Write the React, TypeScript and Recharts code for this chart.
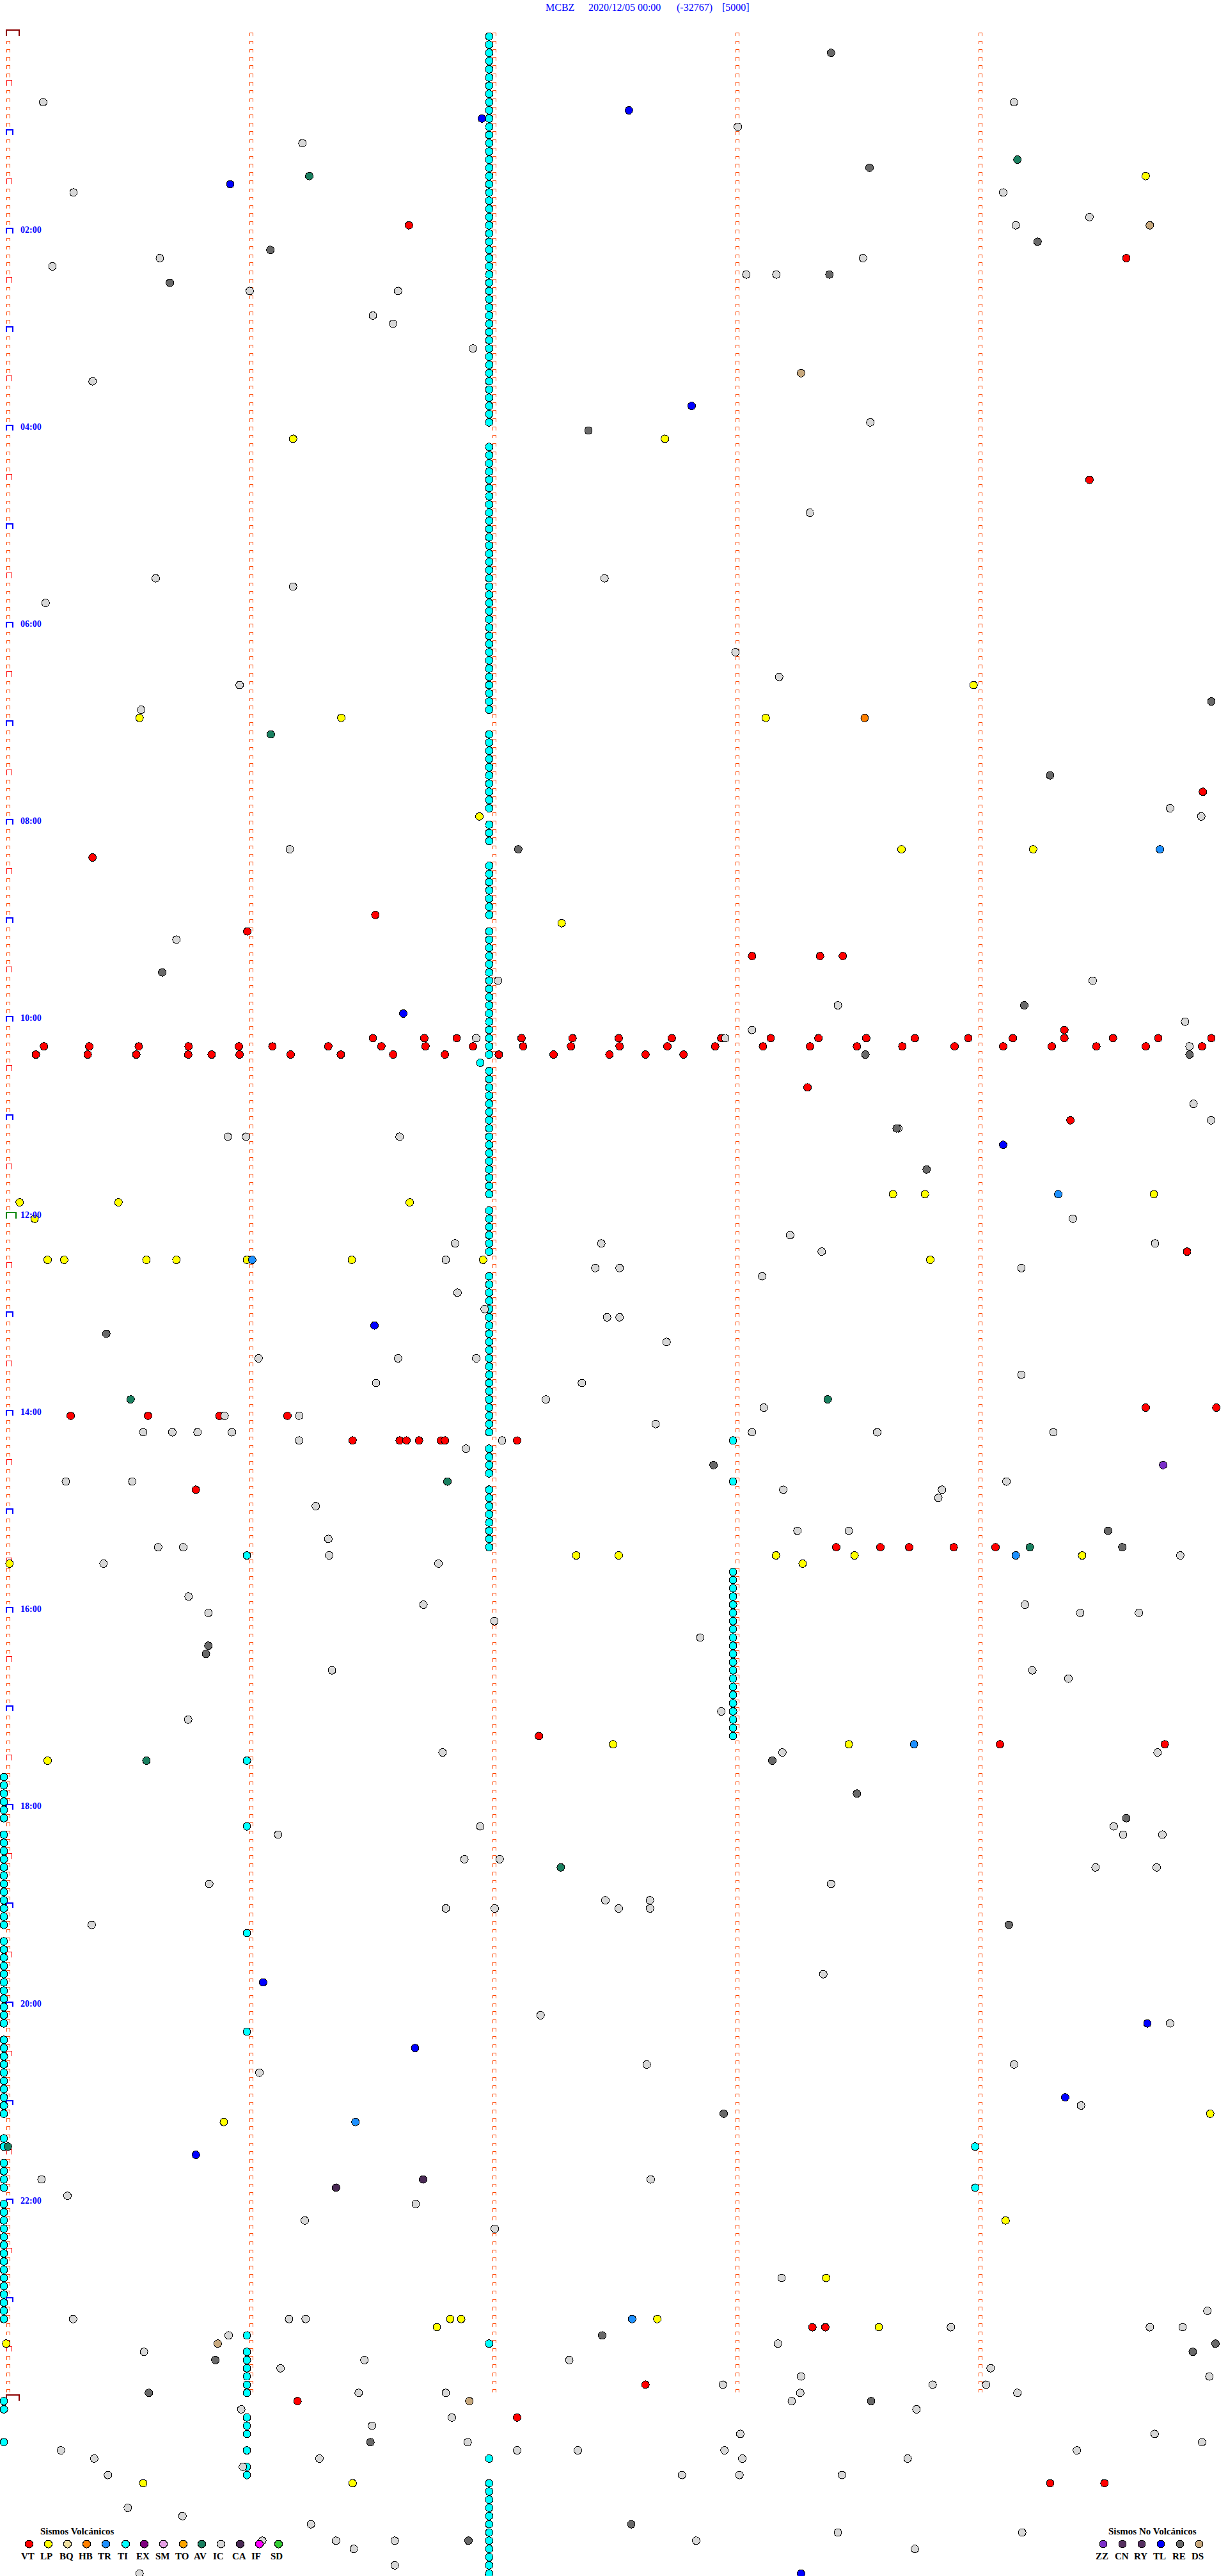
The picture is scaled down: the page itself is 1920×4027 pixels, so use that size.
import { ScatterChart, Scatter, XAxis, YAxis } from "recharts"

// each point is [second inside the 5 minute line, line number] (line 0 = 00:00, 12 lines per hour)
type Pt = [number, number]

const vt: Pt[] = [
  [98.9, 23], [276, 27], [266.9, 54], [294.9, 92], [20.8, 100], [90.6, 107], [59, 109], [183.6, 112], [200.4, 112], [206, 112], [260.7, 121],
  [90, 122], [102.7, 122], [110.7, 122], [126.7, 122], [139.3, 122], [150.7, 122], [163.8, 122], [176, 122], [188.2, 122], [200, 122], [211.8, 122], [223.8, 122], [237, 122], [248, 122], [260.7, 122], [272.7, 122], [283.9, 122], [297, 122],
  [8.8, 123], [20, 123], [32.2, 123], [44.5, 123], [56.9, 123], [65.2, 123], [79, 123], [92.1, 123], [103, 123], [114.7, 123], [127.1, 123], [138.9, 123], [150.9, 123], [162.7, 123], [174.5, 123], [186.3, 123], [197.9, 123], [209.5, 123], [220.7, 123], [233.6, 123], [245.6, 123], [257.6, 123], [268.6, 123], [280.8, 123], [294.7, 123],
  [6.8, 124], [19.6, 124], [31.6, 124], [44.4, 124], [50.2, 124], [57.1, 124], [69.7, 124], [82.1, 124], [95, 124], [107.8, 124], [121.1, 124], [134.6, 124], [148.4, 124], [157.3, 124], [166.7, 124],
  [197.3, 128], [262.2, 132], [291, 148], [280.8, 167], [298.2, 167], [15.4, 168], [34.5, 168], [52.1, 168], [68.9, 168],
  [85, 171], [96.6, 171], [98.3, 171], [101.4, 171], [106.8, 171], [107.8, 171], [125.6, 171], [46.3, 177],
  [204.4, 184], [215.3, 184], [222.4, 184], [233.4, 184], [243.7, 184], [131, 207], [244.8, 208], [285.5, 208],
  [198.5, 279], [201.7, 279], [157.3, 286], [71.4, 288], [125.6, 290], [257.2, 298], [270.6, 298],
]

const lp: Pt[] = [
  [280.8, 17], [70.3, 49], [162.1, 49], [238.3, 79], [32.4, 83], [82.2, 83], [187, 83], [116.3, 95], [220.5, 99], [253, 99], [136.6, 108],
  [218.4, 141], [226.3, 141], [282.8, 141], [2.8, 142], [27.2, 142], [99.1, 142], [6.5, 144],
  [9.7, 149], [13.8, 149], [34.1, 149], [41.5, 149], [58.9, 149], [84.8, 149], [117.2, 149], [227.6, 149],
  [140.2, 185], [150.7, 185], [189.5, 185], [208.9, 185], [265.1, 185], [0.3, 186], [196.1, 186], [149.3, 208], [207.5, 208], [9.7, 210],
  [296.7, 253], [53.2, 254], [246.2, 266], [201.9, 273], [109.1, 278], [111.8, 278], [160.2, 278], [105.8, 279], [214.9, 279], [-0.5, 281], [33.3, 298], [85, 298],
]

const hb: Pt[] = [[211.4, 83]]

const tr: Pt[] = [[284.3, 99], [259.2, 141], [60.2, 149], [248.7, 185], [223.6, 208], [85.7, 254], [154, 278]]

// tremor runs sit at almost the same second on every line
const tiMidSec = 118.7
const tiMidRows = [
  0, 1, 2, 3, 4, 5, 6, 7, 8, 9, 10, 11, 12, 13, 14, 15, 16, 17, 18, 19, 20, 21, 22, 23, 24, 25, 26, 27, 28, 29, 30, 31, 32, 33, 34, 35, 36, 37, 38, 39, 40, 41, 42, 43, 44, 45, 46, 47,
  50, 51, 52, 53, 54, 55, 56, 57, 58, 59, 60, 61, 62, 63, 64, 65, 66, 67, 68, 69, 70, 71, 72, 73, 74, 75, 76, 77, 78, 79, 80, 81, 82,
  85, 86, 87, 88, 89, 90, 91, 92, 93, 94, 96, 97, 98, 101, 102, 103, 104, 105, 106, 107,
  109, 110, 111, 112, 113, 114, 115, 116, 117, 118, 119, 120, 121, 122, 123, 124,
  126, 127, 128, 129, 130, 131, 132, 133, 134, 135, 136, 137, 138, 139, 140, 141, 143, 144, 145, 146, 147, 148,
  151, 152, 153, 154, 155, 156, 157, 158, 159, 160, 161, 162, 163, 164, 165, 166, 167, 168, 169, 170,
  172, 173, 174, 175, 177, 178, 179, 180, 181, 182, 183, 184, 281, 295,
  298, 299, 300, 301, 302, 303, 304, 305, 306, 307, 308, 309,
]
const tiLeftSec = -1.1
const tiLeftRows = [
  212, 213, 214, 215, 216, 217, 219, 220, 221, 222, 223, 224, 225, 226, 227, 228, 229, 230,
  232, 233, 234, 235, 236, 237, 238, 239, 240, 241, 242, 244, 245, 246, 247, 248, 249, 250, 251, 252, 253,
  256, 257, 259, 260, 261, 262, 264, 265, 266, 267, 268, 269, 270, 271, 272, 273, 274, 275, 276, 277, 278, 288, 289, 293,
]
const tiCol2Sec = 58.9
const tiCol2Rows = [185, 210, 218, 231, 243, 280, 282, 283, 284, 285, 286, 287, 290, 291, 292, 294, 296, 297]
const tiCol4Sec = 178.9
const tiCol4Rows = [171, 176, 187, 188, 189, 190, 191, 192, 193, 194, 195, 196, 197, 198, 199, 200, 201, 202, 203, 204, 205, 206, 207]
const tiCol5Sec = 238.7
const tiCol5Rows = [257, 262]
const tiOther: Pt[] = [[116.5, 125]]

const av: Pt[] = [[249.1, 15], [74.3, 17], [64.8, 85], [30.2, 166], [202.3, 166], [108.4, 176], [252.2, 184], [34.1, 210], [136.4, 223], [-0.1, 257]]

const ic: Pt[] = [
  [8.6, 8], [248.3, 8], [180.1, 11], [72.6, 13], [16.1, 19], [245.6, 19], [266.9, 22], [248.7, 23], [37.4, 27], [211, 27], [10.9, 28], [182.2, 29], [189.6, 29],
  [59.6, 31], [96.2, 31], [90, 34], [95, 35], [114.7, 38], [20.8, 42], [212.8, 47], [197.9, 58], [36.4, 66], [147.2, 66], [70.3, 67], [9.2, 69], [179.5, 75], [190.3, 78], [57.1, 79], [32.8, 82],
  [286.8, 94], [294.5, 95], [69.5, 99], [41.5, 110], [120.9, 115], [267.7, 115], [204.8, 118], [290.5, 120], [183.6, 121], [115.5, 122], [177, 122], [291.6, 123], [292.6, 130],
  [296.9, 132], [219.7, 133], [54.2, 134], [58.7, 134], [96.6, 134], [262.8, 144], [193, 146], [110.3, 147], [146.4, 147], [283.1, 147], [200.8, 148], [108, 149],
  [144.9, 150], [150.9, 150], [250.1, 150], [186.1, 151], [110.9, 153], [117.6, 155], [147.8, 156], [150.9, 156], [162.5, 159], [61.8, 161], [96.2, 161], [115.5, 161], [250.1, 163], [90.8, 164], [141.6, 164],
  [132.7, 166], [186.5, 167], [53.4, 168], [71.8, 168], [159.8, 169], [33.3, 170], [40.5, 170], [46.7, 170], [55.2, 170], [183.6, 170], [214.5, 170], [258, 170], [71.8, 171], [121.9, 171], [113, 172],
  [14.2, 176], [30.6, 176], [246.4, 176], [191.3, 177], [230.5, 177], [229.6, 178], [75.9, 179], [194.8, 182], [207.5, 182], [79, 183], [37, 184], [43.2, 184], [79.2, 185], [289.3, 185], [23.5, 186], [106.2, 186],
  [44.5, 190], [102.5, 191], [251, 191], [49.4, 192], [264.6, 192], [279.1, 192], [120, 193], [170.8, 195], [79.9, 199], [252.8, 199], [261.7, 200], [176, 204], [44.4, 205], [107.2, 209], [191.1, 209], [283.7, 209],
  [116.5, 218], [272.9, 218], [66.6, 219], [275.2, 219], [284.9, 219], [112.6, 222], [121.3, 222], [268.4, 223], [283.5, 223], [49.6, 225], [203.1, 225], [147.4, 227], [158.4, 227], [108, 228], [120.1, 228], [150.7, 228], [158.4, 228], [20.6, 230],
  [201.2, 236], [131.4, 241], [286.8, 242], [157.6, 247], [248.3, 247], [62, 248], [264.8, 252], [8.2, 261], [158.6, 261], [14.6, 263], [100.6, 264],
  [73.2, 266], [120.1, 267], [190.9, 273], [296, 277], [16, 278], [69.3, 278], [73.4, 278], [232.7, 279], [281.8, 279], [289.9, 279], [54.4, 280], [190, 281], [33.5, 282], [87.9, 283], [138.5, 283], [67.2, 284], [242.5, 284],
  [195.7, 285], [296.5, 285], [176.4, 286], [228.2, 286], [241.4, 286], [86.5, 287], [108, 287], [195.5, 287], [249.1, 287], [193.4, 288], [57.5, 289], [224.2, 289], [109.5, 290], [89.8, 291], [180.7, 292], [283, 292], [113.4, 293], [294.7, 293],
  [13, 294], [125.6, 294], [140.6, 294], [176.8, 294], [263.8, 294], [21.2, 295], [76.8, 295], [181.2, 295], [222, 295], [57.9, 296], [24.6, 297], [166.3, 297], [180.5, 297], [205.8, 297],
  [29.5, 301], [43, 302], [74.7, 303], [204.8, 304], [250.3, 304], [62.7, 305], [80.9, 305], [95.4, 305], [169.8, 305], [85.3, 306], [223.8, 306], [95.4, 308], [32.4, 309],
]

const ca: Pt[] = [[102.4, 261], [80.9, 262]]
const zz: Pt[] = [[285.1, 174]]
const tl: Pt[] = [[153.2, 9], [116.9, 10], [54.8, 18], [168.7, 45], [97.5, 119], [245.6, 135], [90.4, 157], [62.9, 237], [281.2, 242], [100.4, 245], [260.9, 251], [46.3, 258], [195.7, 309]]
const re: Pt[] = [
  [203.1, 2], [212.6, 16], [254.1, 25], [64.7, 26], [202.7, 29], [39.9, 30], [143.2, 48], [297, 81], [257.2, 90], [125.9, 99], [38, 114], [250.8, 118], [211.6, 124], [291.6, 124], [219.3, 133], [226.7, 138], [24.2, 158], [174.1, 174],
  [271.5, 182], [275, 184], [49.4, 196], [48.8, 197], [188.6, 210], [209.5, 214], [276, 217], [247, 230], [176.6, 253], [146.6, 280], [298, 281], [292.4, 282], [51.1, 283], [34.7, 287], [213, 288], [89.4, 293], [113.6, 305], [153.8, 303],
]
const ds: Pt[] = [[281.8, 23], [195.7, 41], [51.7, 281], [113.8, 288]]

const colSeconds = [0, 60, 120, 180, 240]
const lineCount = 288
const hourLabelRows = [24, 48, 72, 96, 120, 144, 168, 192, 216, 240, 264]

const volcanicLegend = [
  { code: "VT", color: "#ff0000", textX: 33 },
  { code: "LP", color: "#ffff00", textX: 63 },
  { code: "BQ", color: "#f0e0a0", textX: 93 },
  { code: "HB", color: "#ff8000", textX: 123 },
  { code: "TR", color: "#1e90ff", textX: 153 },
  { code: "TI", color: "#00ffff", textX: 184 },
  { code: "EX", color: "#800080", textX: 213 },
  { code: "SM", color: "#e6a0e6", textX: 243 },
  { code: "TO", color: "#ffa500", textX: 274 },
  { code: "AV", color: "#1a8060", textX: 303 },
  { code: "IC", color: "#d8d8d8", textX: 333 },
  { code: "CA", color: "#4a2a55", textX: 363 },
  { code: "IF", color: "#ff00ff", textX: 393 },
  { code: "SD", color: "#32cd32", textX: 423 },
]
const otherLegend = [
  { code: "ZZ", color: "#7b2fc8", textX: 1713 },
  { code: "CN", color: "#55305f", textX: 1743 },
  { code: "RY", color: "#553060", textX: 1773 },
  { code: "TL", color: "#0000ff", textX: 1803 },
  { code: "RE", color: "#696969", textX: 1833 },
  { code: "DS", color: "#c8a97e", textX: 1863 },
]

const colorOf = (code: string) =>
  [...volcanicLegend, ...otherLegend].find((l) => l.code === code)!.color

const toData = (pts: Pt[]) => pts.map(([sec, row]) => ({ sec, row }))
const run = (sec: number, rows: number[]) => rows.map((row) => ({ sec, row }))

const tiData = [
  ...run(tiMidSec, tiMidRows),
  ...run(tiLeftSec, tiLeftRows),
  ...run(tiCol2Sec, tiCol2Rows),
  ...run(tiCol4Sec, tiCol4Rows),
  ...run(tiCol5Sec, tiCol5Rows),
  ...toData(tiOther),
]

const series = [
  { code: "VT", data: toData(vt) },
  { code: "LP", data: toData(lp) },
  { code: "HB", data: toData(hb) },
  { code: "TR", data: toData(tr) },
  { code: "TI", data: tiData },
  { code: "AV", data: toData(av) },
  { code: "IC", data: toData(ic) },
  { code: "CA", data: toData(ca) },
  { code: "ZZ", data: toData(zz) },
  { code: "TL", data: toData(tl) },
  { code: "RE", data: toData(re) },
  { code: "DS", data: toData(ds) },
]

// small orange marks on every minute of every line
const minuteMarks = colSeconds.flatMap((sec) =>
  Array.from({ length: lineCount }, (_, row) => ({ sec, row })).filter((m) => !(sec === 0 && m.row % 6 === 0))
)
// bigger marks at the left edge: half hours, hours, noon, midnight
const timeMarks = Array.from({ length: lineCount / 6 + 1 }, (_, i) => ({ sec: 0, row: i * 6 }))

const Bracket = ({ cx, cy, w, h, color, sw, left }: any) => (
  <path
    d={`M${cx + left} ${cy}V${cy - h}H${cx + left + w}V${cy}`}
    fill="none"
    stroke={color}
    strokeWidth={sw}
    shapeRendering="crispEdges"
  />
)

const MinuteMark = ({ cx, cy }: any) => <Bracket cx={cx} cy={cy - 0.5} w={5} h={5} color="#ff4500" sw={1} left={-2.5} />

const TimeMark = ({ cx, cy, row }: any) => {
  if (row % lineCount === 0) return <Bracket cx={cx} cy={cy - 0.5} w={20} h={9.5} color="#8b0000" sw={2} left={-3} />
  if (row === 144) return <Bracket cx={cx} cy={cy} w={15} h={10} color="#008000" sw={1.5} left={-3} />
  if (row % 12 === 0) return <Bracket cx={cx} cy={cy - 0.5} w={10} h={7.5} color="#0000ff" sw={2} left={-3} />
  return <Bracket cx={cx} cy={cy - 0.5} w={8} h={8} color="#ff0000" sw={1} left={-2.5} />
}

const Dot = ({ cx, cy, fill }: any) => (
  <circle cx={cx} cy={cy} r={6} fill={fill} stroke="#000" strokeWidth={1} shapeRendering="crispEdges" />
)

const HourTick = ({ y, payload }: any) => {
  const hour = String(payload.value / 12).padStart(2, "0")
  return (
    <text x={32} y={y - 1} fill="#0000ff" fontFamily="Liberation Serif" fontWeight="bold" fontSize={14}>
      {hour}:00
    </text>
  )
}

const LegendRow = ({ items }: { items: typeof otherLegend }) => (
  <>
    {items.map((l) => (
      <g key={l.code}>
        <circle cx={l.textX + (l.textX < 1000 ? 12.5 : 12)} cy={3977} r={6} fill={l.color} stroke="#000" shapeRendering="crispEdges" />
        <text x={l.textX} y={4001} fontFamily="Liberation Serif" fontWeight="bold" fontSize={15} fill="#000">
          {l.code}
        </text>
      </g>
    ))}
  </>
)

const titleParts = [
  { text: "MCBZ", x: 853 },
  { text: "2020/12/05 00:00", x: 920 },
  { text: "(-32767)", x: 1058 },
  { text: "[5000]", x: 1129 },
]

const App = () => {
  return (
    <div style={{ position: "absolute", left: 0, top: 0, width: 1920, height: 4027, overflow: "hidden", background: "#fff" }}>
      <ScatterChart width={1920} height={4027} margin={{ top: 0, right: 0, bottom: 0, left: 0 }}>
        <XAxis type="number" dataKey="sec" domain={[-2.05, 301.1]} hide />
        <YAxis
          type="number"
          dataKey="row"
          domain={[-4.44, 309.3]}
          reversed
          mirror
          width={1}
          ticks={hourLabelRows}
          interval={0}
          axisLine={false}
          tickLine={false}
          tick={HourTick}
        />
        <Scatter data={minuteMarks} shape={MinuteMark} isAnimationActive={false} />
        <Scatter data={timeMarks} shape={TimeMark} isAnimationActive={false} />
        {series.map((s) => (
          <Scatter key={s.code} name={s.code} data={s.data} fill={colorOf(s.code)} shape={Dot} isAnimationActive={false} />
        ))}
      </ScatterChart>
      <svg width={1920} height={4027} style={{ position: "absolute", left: 0, top: 0, pointerEvents: "none" }}>
        {titleParts.map((t) => (
          <text key={t.text} x={t.x} y={17} fill="#0000ff" fontFamily="Liberation Serif" fontSize={16}>
            {t.text}
          </text>
        ))}
        <text x={63} y={3962} fontFamily="Liberation Serif" fontWeight="bold" fontSize={15} fill="#000">
          Sismos Volcánicos
        </text>
        <text x={1733} y={3962} fontFamily="Liberation Serif" fontWeight="bold" fontSize={15} fill="#000">
          Sismos No Volcánicos
        </text>
        <LegendRow items={volcanicLegend} />
        <LegendRow items={otherLegend} />
      </svg>
    </div>
  )
}

export default App
